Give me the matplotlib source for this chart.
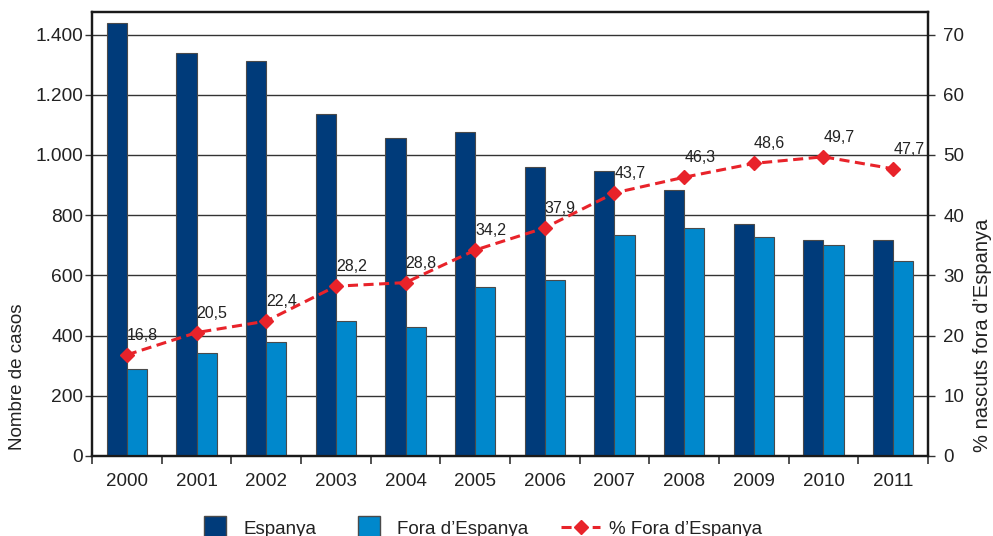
import matplotlib
matplotlib.use('Agg')
import matplotlib.pyplot as plt
from matplotlib.lines import Line2D

plt.rcParams['font.family'] = ['Liberation Sans', 'DejaVu Sans']

years = ['2000', '2001', '2002', '2003', '2004', '2005',
         '2006', '2007', '2008', '2009', '2010', '2011']
espanya = [1438, 1339, 1312, 1135, 1058, 1078, 959, 947, 883, 771, 717, 717]
fora = [288, 343, 378, 449, 429, 561, 584, 733, 759, 726, 702, 649]
pct_fora = [16.8, 20.5, 22.4, 28.2, 28.8, 34.2, 37.9, 43.7, 46.3, 48.6, 49.7, 47.7]

left_ticks = [0, 200, 400, 600, 800, 1000, 1200, 1400]
right_ticks = [0, 10, 20, 30, 40, 50, 60, 70]

dark = '#003b7a'
light = '#0088cc'
red = '#e8232a'
txt = '#222222'

fig = plt.figure(figsize=(9.93, 5.36), dpi=100)
ax = fig.add_axes([0.0927, 0.1493, 0.8418, 0.8283])
ax2 = ax.twinx()

x = list(range(len(years)))
w = 0.29
ax.bar([i - w / 2 for i in x], espanya, w, color=dark, edgecolor='#4a4a4a', linewidth=0.8, zorder=3)
ax.bar([i + w / 2 for i in x], fora, w, color=light, edgecolor='#4a4a4a', linewidth=0.8, zorder=3)

ax.set_xlim(-0.5, 11.5)
ax.set_ylim(0, 1475)
ax2.set_ylim(0, 73.75)

ax.set_yticks(left_ticks)
ax.set_yticklabels([f"{v:,}".replace(',', '.') for v in left_ticks])
ax2.set_yticks(right_ticks)
ax2.set_yticklabels([str(v) for v in right_ticks])

ax.yaxis.grid(True, color='#333333', linewidth=1.0)
ax.set_axisbelow(True)

ax.set_xticks(x)
ax.set_xticklabels(years)
ax.set_xticks([i - 0.5 for i in range(len(years) + 1)], minor=True)
ax.tick_params(axis='x', which='major', length=0, pad=12, labelsize=13.5, labelcolor=txt)
ax.tick_params(axis='x', which='minor', length=6, width=1.2, color='#333333', direction='out')
ax.tick_params(axis='y', length=5, width=1, pad=1.5, labelsize=13.8, labelcolor=txt, color='#333333')
ax2.tick_params(axis='y', length=5, width=1, pad=6, labelsize=13.5, labelcolor=txt, color='#333333')

for a in (ax, ax2):
    for s in a.spines.values():
        s.set_linewidth(1.6)
        s.set_color('#1a1a1a')

ax2.plot(x, pct_fora, color=red, linewidth=2.2, dashes=(3.3, 1.8),
         marker='D', markersize=7, markerfacecolor=red, markeredgecolor=red, zorder=5)
for i, v in zip(x, pct_fora):
    ax2.annotate(f"{v:.1f}".replace('.', ','), (i, v), xytext=(0, 14), textcoords='offset points',
                 ha='left', va='center', fontsize=11.5, color=txt)

fig.text(18 / 993, 1 - 377 / 536, 'Nombre de casos', rotation=90, ha='center', va='center',
         fontsize=13.5, color=txt)
fig.text(982 / 993, 1 - 335 / 536, '% nascuts fora d\u2019Espanya', rotation=90, ha='center', va='center',
         fontsize=14.5, color=txt)

handles = [
    Line2D([], [], linestyle='none', marker='s', markersize=16.5, markerfacecolor=dark, markeredgecolor='#4a4a4a'),
    Line2D([], [], linestyle='none', marker='s', markersize=16.5, markerfacecolor=light, markeredgecolor='#4a4a4a'),
    Line2D([], [], color=red, linewidth=2.2, dashes=(3.3, 1.8), marker='D', markersize=7,
           markerfacecolor=red, markeredgecolor=red),
]
labels = ['Espanya', 'Fora d\u2019Espanya', '% Fora d\u2019Espanya']
fig.legend(handles, labels, loc='center', bbox_to_anchor=(0.482, 1 - 529 / 536), ncol=3,
           frameon=False, fontsize=13.5, handlelength=2.1, handletextpad=0.45, columnspacing=1.75,
           borderpad=0, numpoints=1, labelcolor=txt)

fig.savefig('out.png', dpi=100)
